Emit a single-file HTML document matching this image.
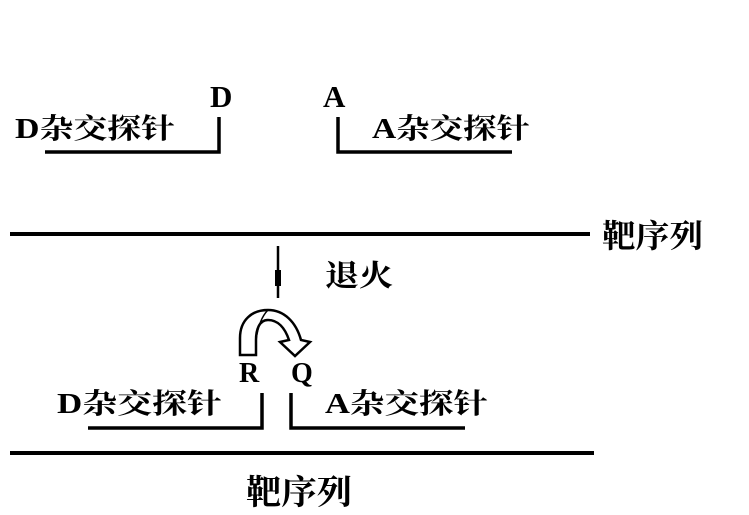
<!DOCTYPE html>
<html>
<head>
<meta charset="utf-8">
<style>
  html, body { margin: 0; padding: 0; background: #ffffff; }
  body { width: 749px; height: 515px; overflow: hidden; }
  svg { display: block; }
  .cjk { font-family: "Liberation Serif", "Noto Serif CJK SC", serif; font-weight: bold; fill: #000; }
  .lat { font-family: "Liberation Serif", serif; font-weight: bold; fill: #000; }
</style>
</head>
<body>
<svg width="749" height="515" viewBox="0 0 749 515" xmlns="http://www.w3.org/2000/svg">
  <rect x="0" y="0" width="749" height="515" fill="#fff"/>

  <!-- Top probes -->
  <text class="cjk" x="15" y="138" font-size="28" textLength="160" lengthAdjust="spacingAndGlyphs">D杂交探针</text>
  <text class="lat" x="210" y="107" font-size="31">D</text>
  <polyline points="45,152 219,152 219,117" fill="none" stroke="#000" stroke-width="3.5"/>

  <text class="lat" x="323" y="107" font-size="31">A</text>
  <polyline points="338,117 338,152 512,152" fill="none" stroke="#000" stroke-width="3.5"/>
  <text class="cjk" x="372" y="138" font-size="28" textLength="158" lengthAdjust="spacingAndGlyphs">A杂交探针</text>

  <!-- Top target line -->
  <line x1="10" y1="234" x2="590" y2="234" stroke="#000" stroke-width="4"/>
  <text class="cjk" x="602" y="247" font-size="32" textLength="101" lengthAdjust="spacingAndGlyphs">靶序列</text>

  <!-- Anneal arrow -->
  <line x1="278" y1="246" x2="278" y2="298" stroke="#000" stroke-width="2.5"/>
  <rect x="275" y="270" width="6" height="16" fill="#000"/>
  <text class="cjk" x="325" y="286" font-size="30" textLength="68" lengthAdjust="spacingAndGlyphs">退火</text>

  <!-- Curved U-turn arrow -->
  <path d="M240,355 L240,338 C240,320 252,310 268,310 C284,310 296,322 301,340
           L310,342 L295,356 L280,342 L289,340 C285,328 278,320 268,320
           C259,320 256,330 256,340 L256,355 Z"
        fill="#fff" stroke="#000" stroke-width="2.5" stroke-linejoin="miter"/>
  <path d="M268,310 C262,316 258,326 256,340" fill="none" stroke="#000" stroke-width="1.5"/>

  <text class="lat" x="239" y="382" font-size="28">R</text>
  <text class="lat" x="291" y="382" font-size="28">Q</text>

  <!-- Bottom probes -->
  <text class="cjk" x="57" y="413" font-size="28" textLength="165" lengthAdjust="spacingAndGlyphs">D杂交探针</text>
  <polyline points="88,428 262,428 262,393" fill="none" stroke="#000" stroke-width="3.5"/>

  <polyline points="291,393 291,428 465,428" fill="none" stroke="#000" stroke-width="3.5"/>
  <text class="cjk" x="325" y="413" font-size="28" textLength="163" lengthAdjust="spacingAndGlyphs">A杂交探针</text>

  <!-- Bottom target line -->
  <line x1="10" y1="453" x2="594" y2="453" stroke="#000" stroke-width="4"/>
  <text class="cjk" x="246" y="504" font-size="34" textLength="106" lengthAdjust="spacingAndGlyphs">靶序列</text>
</svg>
</body>
</html>
